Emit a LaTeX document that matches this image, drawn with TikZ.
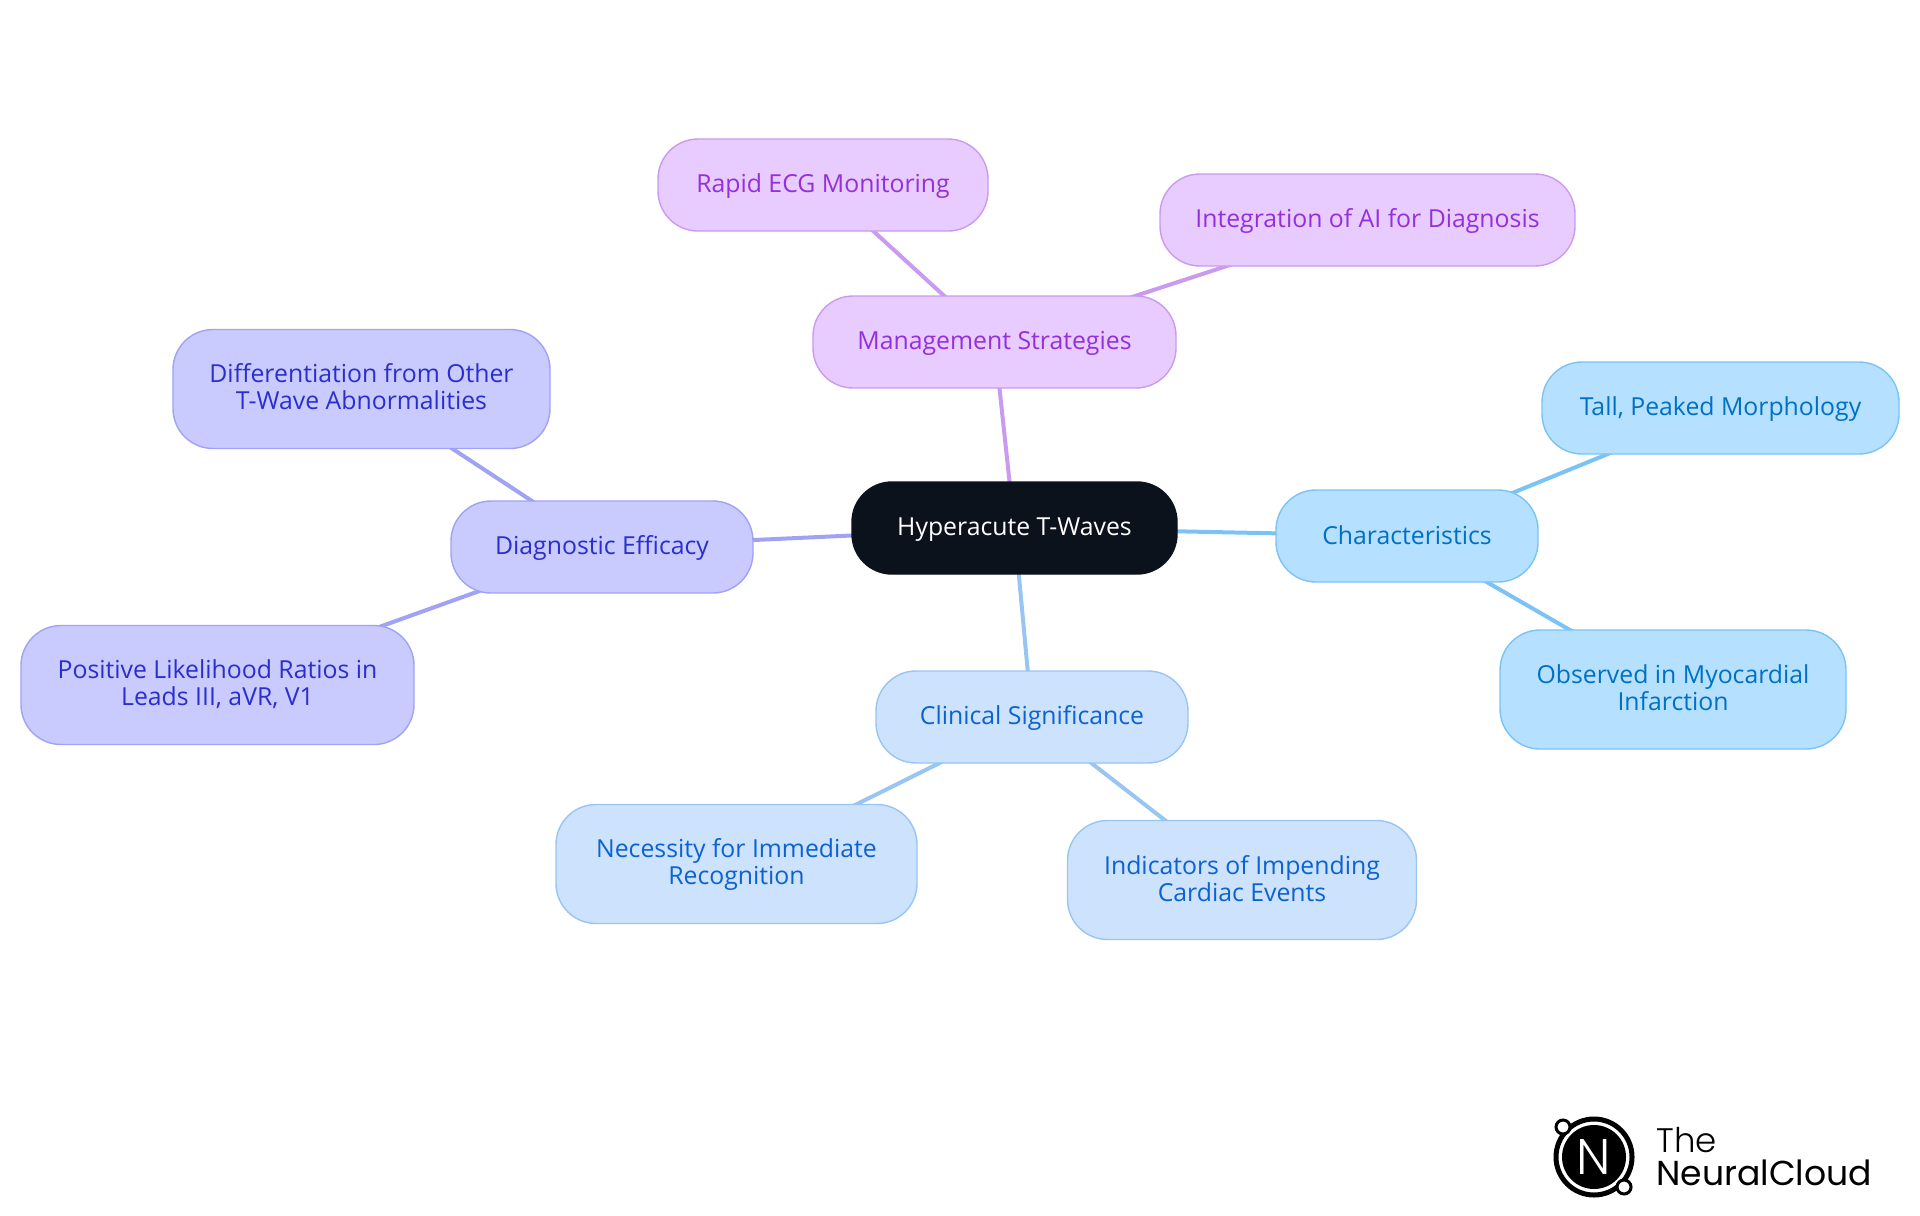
\documentclass[tikz,border=0pt]{standalone}
\usepackage{fontspec}
\setmainfont{Open Sans}
\newfontfamily\logofont{Poppins Light}
\newfontfamily\cloudfont{Poppins}
\usetikzlibrary{backgrounds}
\definecolor{rootfill}{HTML}{0C121B}
\definecolor{mgmtfill}{HTML}{E8CBFF}
\definecolor{mgmtline}{HTML}{C99BF0}
\definecolor{mgmttext}{HTML}{9330DB}
\definecolor{charfill}{HTML}{B5E0FF}
\definecolor{charline}{HTML}{7CC3F5}
\definecolor{chartext}{HTML}{0070C4}
\definecolor{clinfill}{HTML}{CDE2FD}
\definecolor{clinline}{HTML}{98C5F2}
\definecolor{clintext}{HTML}{0B62D0}
\definecolor{diagfill}{HTML}{C9CBFF}
\definecolor{diagline}{HTML}{A0A2F3}
\definecolor{diagtext}{HTML}{2B2ECC}
\begin{document}
\begin{tikzpicture}[
      x=0.5pt,
      y=-0.5pt,
      inner sep=0pt,
      box/.style={rounded corners=20pt,draw,line width=0.7pt,align=center,
        font=\fontsize{12.4}{13.5}\selectfont,
        execute at begin node={\rule[-2pt]{0pt}{12.2pt}},
        execute at end node={\rule[-2pt]{0pt}{12.2pt}}},
      root/.style={box,fill=rootfill,draw=rootfill,text=white},
      mgmt/.style={box,fill=mgmtfill,draw=mgmtline,text=mgmttext},
      char/.style={box,fill=charfill,draw=charline,text=chartext},
      clin/.style={box,fill=clinfill,draw=clinline,text=clintext},
      diag/.style={box,fill=diagfill,draw=diagline,text=diagtext},
      link/.style={line width=2pt}
    ]
    \useasboundingbox (0,0) rectangle (1920,1215);
    \node (hyper) [root,minimum width=162.5pt,minimum height=46pt] at (1014.5,528) {Hyperacute T-Waves};
    \node (mgmt) [mgmt,minimum width=181.5pt,minimum height=46pt] at (994.5,342) {Management Strategies};
    \node (rapid) [mgmt,minimum width=165pt,minimum height=46pt] at (823,185) {Rapid ECG Monitoring};
    \node (integ) [mgmt,minimum width=207.5pt,minimum height=46pt] at (1367.5,220) {Integration of AI for Diagnosis};
    \node (chars) [char,minimum width=131pt,minimum height=46pt] at (1407,536) {Characteristics};
    \node (tall) [char,minimum width=178.5pt,minimum height=46pt] at (1720.5,408) {Tall, Peaked Morphology};
    \node (obs) [char,minimum width=173pt,minimum height=59.5pt] at (1673,689.5) {Observed in Myocardial\\Infarction};
    \node (clin) [clin,minimum width=156pt,minimum height=46pt] at (1032,717) {Clinical Significance};
    \node (need) [clin,minimum width=180.5pt,minimum height=59.5pt] at (736.5,864) {Necessity for Immediate\\Recognition};
    \node (indic) [clin,minimum width=174.5pt,minimum height=59.5pt] at (1242,880) {Indicators of Impending\\Cardiac Events};
    \node (diag) [diag,minimum width=151pt,minimum height=46pt] at (602,547) {Diagnostic Efficacy};
    \node (diffr) [diag,minimum width=188.5pt,minimum height=59.5pt] at (361.5,389) {Differentiation from Other\\T-Wave Abnormalities};
    \node (posit) [diag,minimum width=196.5pt,minimum height=59.5pt] at (217.5,685) {Positive Likelihood Ratios in\\Leads III, aVR, V1};
    \begin{scope}[on background layer]
      \draw [link,mgmtline] (hyper.center) -- (mgmt.center);
      \draw [link,mgmtline] (mgmt.center) -- (rapid.center);
      \draw [link,mgmtline] (mgmt.center) -- (integ.center);
      \draw [link,charline] (hyper.center) -- (chars.center);
      \draw [link,charline] (chars.center) -- (tall.center);
      \draw [link,charline] (chars.center) -- (obs.center);
      \draw [link,clinline] (hyper.center) -- (clin.center);
      \draw [link,clinline] (clin.center) -- (need.center);
      \draw [link,clinline] (clin.center) -- (indic.center);
      \draw [link,diagline] (hyper.center) -- (diag.center);
      \draw [link,diagline] (diag.center) -- (diffr.center);
      \draw [link,diagline] (diag.center) -- (posit.center);
    \end{scope}
    \node (ring) [circle,draw=black,line width=2.5pt,fill=white,minimum size=38pt] at (1594,1157) {};
    \node (disc) [circle,fill=black,minimum size=32pt,text=white,font=\logofont\fontsize{25}{25}\selectfont] at (ring.center) {N};
    \node (dota) [circle,draw=black,line width=1.5pt,fill=white,minimum size=7pt] at (1563,1127) {};
    \node (dotb) [circle,draw=black,line width=1.5pt,fill=white,minimum size=7pt] at (1624,1187) {};
    \node (the) [anchor=base west,font=\logofont\fontsize{17}{17}\selectfont] at (1656,1152) {The};
    \node (cloud) [anchor=base west,font=\cloudfont\fontsize{17.3}{17.3}\selectfont] at (1656,1185) {NeuralCloud};
  \end{tikzpicture}
\end{document}
